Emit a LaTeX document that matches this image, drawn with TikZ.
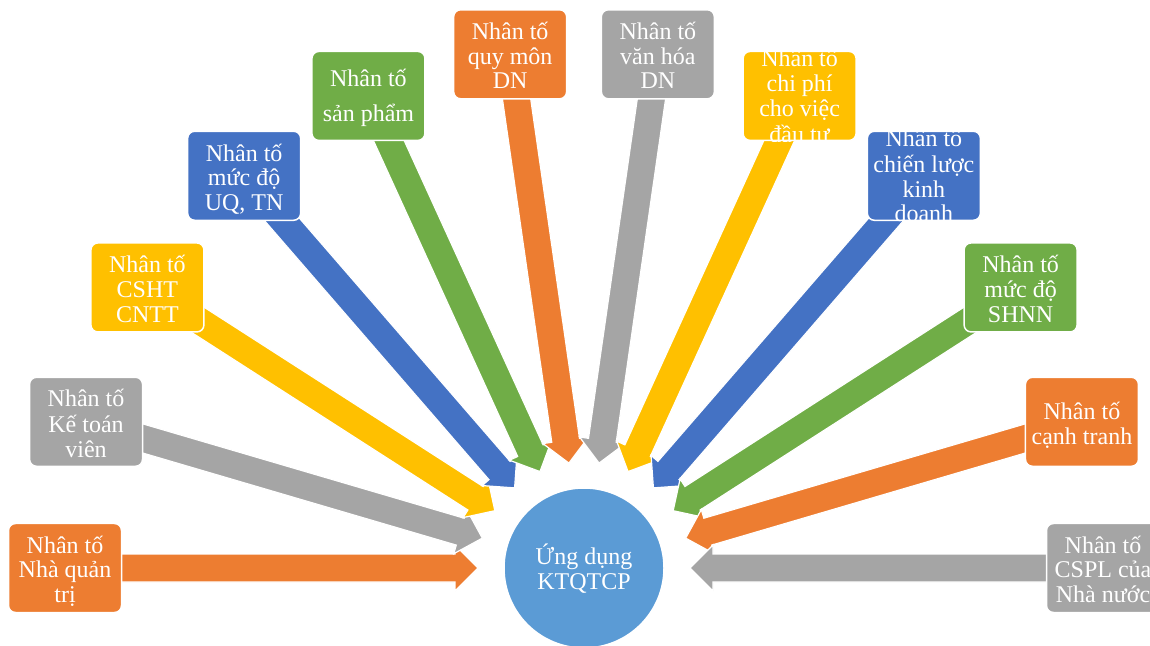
\documentclass[tikz,border=0pt]{standalone}
\usepackage{fontspec}
\setmainfont{Liberation Serif}
\usetikzlibrary{calc}
\definecolor{cOrange}{HTML}{ED7D31}
\definecolor{cGray}{HTML}{A5A5A5}
\definecolor{cYellow}{HTML}{FFC000}
\definecolor{cBlue}{HTML}{4472C4}
\definecolor{cGreen}{HTML}{70AD47}
\definecolor{cHub}{HTML}{5B9BD5}
\tikzset{
  factor/.style={draw=white, line width=1.5pt, rounded corners=7pt,
    minimum width=113pt, minimum height=89pt, inner sep=0pt},
  factortext/.style={text=white, align=center, inner sep=0pt,
    font=\fontsize{24}{24.7}\selectfont},
  flow/.style={draw=white, line width=1.2pt, line join=miter},
  hub/.style={circle, fill=cHub, draw=white, line width=1.5pt,
    minimum size=160pt, inner sep=0pt}
}
\begin{document}
\begin{tikzpicture}[x=1pt,y=1pt]
\useasboundingbox (0,0) rectangle (1150,645);
\clip (0,0) rectangle (1150,645);
\coordinate (C) at (584,77);

% block arrows pointing to the hub, spaced evenly over a half circle
\foreach \k/\col in {0/cOrange,1/cGray,2/cYellow,3/cBlue,4/cGreen,5/cOrange,
                     6/cGray,7/cYellow,8/cBlue,9/cGreen,10/cOrange,11/cGray}{
  \pgfmathsetmacro\ang{180-\k*180/11}
  \begin{scope}[shift={(C)}, rotate=\ang]
    \filldraw[flow, fill=\col] (490,14) -- (129,14) -- (129,23) -- (106,0)
      -- (129,-23) -- (129,-14) -- (490,-14) -- cycle;
  \end{scope}
}

% factor boxes
\foreach \k/\col/\dy/\txt in {
  0/cOrange/-5/{\strut Nhân tố\\\strut Nhà quản\\\strut trị},
  1/cGray/-5/{\strut Nhân tố\\\strut Kế toán\\\strut viên},
  2/cYellow/-5/{\strut Nhân tố\\\strut CSHT\\\strut CNTT},
  3/cBlue/-5/{\strut Nhân tố\\\strut mức độ\\\strut UQ, TN},
  4/cGreen/-3/{\strut Nhân tố\\[9pt]\strut sản phẩm},
  5/cOrange/-5/{\strut Nhân tố\\\strut quy môn\\\strut DN},
  6/cGray/-5/{\strut Nhân tố\\\strut văn hóa\\\strut DN},
  7/cYellow/-3.5/{\strut Nhân tố\\\strut chi phí\\\strut cho việc\\\strut đầu tư},
  8/cBlue/-3.5/{\strut Nhân tố\\\strut chiến lược\\\strut kinh\\\strut doanh},
  9/cGreen/-5/{\strut Nhân tố\\\strut mức độ\\\strut SHNN},
  10/cOrange/-5/{\strut Nhân tố\\\strut cạnh tranh},
  11/cGray/-5/{\strut Nhân tố\\\strut CSPL của\\\strut Nhà nước}}{
  \pgfmathsetmacro\ang{180-\k*180/11}
  \node[factor, fill=\col] (f\k) at ($(C)+(\ang:519)$) {};
  \begin{scope}
    \clip[rounded corners=7pt] (f\k.south west) rectangle (f\k.north east);
    \node[factortext] (t\k) at ([yshift=\dy pt]f\k.center) {\txt};
  \end{scope}
}

% central hub
\node[hub] (hubnode) at (C) {};
\node[factortext] (hubtext) at ([yshift=-2.5pt]hubnode.center)
  {\strut Ứng dụng\\\strut KTQTCP};
\end{tikzpicture}
\end{document}
